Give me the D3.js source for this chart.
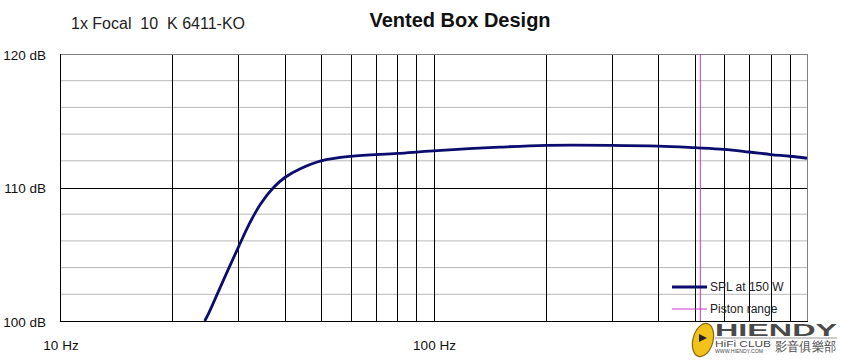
<!DOCTYPE html>
<html>
<head>
<meta charset="utf-8">
<script src="https://cdn.jsdelivr.net/npm/d3@7"></script>
<style>
  body { margin: 0; background: #fff; }
  text { font-family: Arial, "Liberation Sans", sans-serif; }
</style>
</head>
<body>
<svg id="chart" width="842" height="363"></svg>
<script>
// Frequency response (Hz, dB)
const freqs = [24.4, 25, 27, 30, 32.3, 34.4, 37.3, 40, 44, 50, 60, 80, 100, 150, 200, 300, 400, 500, 600, 700, 800, 900, 1000];
const spl = [100, 100.57, 102.67, 105.5, 107.4, 108.75, 110.0, 110.75, 111.4, 111.99, 112.33, 112.55, 112.75, 113.02, 113.16, 113.16, 113.1, 112.98, 112.86, 112.66, 112.47, 112.34, 112.19];

// Piston range limit (Hz)
const pistonFreq = [518];

// Axis ticks
const xMajorTicks = [10, 100];
const xTickLabels = ["10 Hz", "100 Hz"];
const xGridTicks = [20, 30, 40, 50, 60, 70, 80, 90, 100, 200, 300, 400, 500, 600, 700, 800, 900];
const yTicks = [100, 110, 120];
const yTickLabels = ["100 dB", "110 dB", "120 dB"];
const yMinorTicks = [102, 104, 106, 108, 112, 114, 116, 118];

const legendItems = ["SPL at 150 W", "Piston range"];

const svg = d3.select("#chart");
const margin = { left: 60, right: 35, top: 54, bottom: 42 };
const W = 842, H = 363;

const x = d3.scaleLog().domain([10, 1000]).range([margin.left, W - margin.right]);
const y = d3.scaleLinear().domain([100, 120]).range([H - margin.bottom, margin.top]);

// Minor horizontal grid
svg.append("g").selectAll("line").data(yMinorTicks).join("line")
    .attr("x1", x(10)).attr("x2", x(1000))
    .attr("y1", d => y(d)).attr("y2", d => y(d))
    .attr("stroke", "#b8b8b8").attr("stroke-width", 1);

// Vertical grid
svg.append("g").selectAll("line").data(xGridTicks).join("line")
    .attr("x1", d => Math.round(x(d)) + 0.5).attr("x2", d => Math.round(x(d)) + 0.5)
    .attr("y1", y(120)).attr("y2", y(100))
    .attr("stroke", "#000").attr("stroke-width", 1);

// Major horizontal line at 110 dB
svg.append("line")
    .attr("x1", x(10)).attr("x2", x(1000))
    .attr("y1", Math.round(y(110)) + 0.5).attr("y2", Math.round(y(110)) + 0.5)
    .attr("stroke", "#000");

// Frame: top and right gray, left and bottom black
svg.append("line").attr("x1", x(10)).attr("x2", x(1000))
    .attr("y1", y(120) + 0.5).attr("y2", y(120) + 0.5).attr("stroke", "#808080");
svg.append("line").attr("x1", x(1000) + 0.5).attr("x2", x(1000) + 0.5)
    .attr("y1", y(120)).attr("y2", y(100)).attr("stroke", "#808080");
svg.append("line").attr("x1", x(10) + 0.5).attr("x2", x(10) + 0.5)
    .attr("y1", y(120)).attr("y2", y(100)).attr("stroke", "#000");
svg.append("line").attr("x1", x(10)).attr("x2", x(1000) + 1)
    .attr("y1", y(100) + 0.5).attr("y2", y(100) + 0.5).attr("stroke", "#000");

// Piston range marker
svg.append("g").selectAll("line").data(pistonFreq).join("line")
    .attr("x1", d => x(d)).attr("x2", d => x(d))
    .attr("y1", y(120)).attr("y2", y(100))
    .attr("stroke", "#cc33cc").attr("stroke-width", 1);

// SPL curve
const pts = freqs.map((f, i) => [f, spl[i]]);
const line = d3.line()
    .x(d => x(d[0])).y(d => y(d[1]))
    .curve(d3.curveCatmullRom.alpha(0.5));
svg.append("path").datum(pts)
    .attr("d", line)
    .attr("fill", "none")
    .attr("stroke", "#0c0c6e")
    .attr("stroke-width", 2.8);

// Y labels
svg.append("g").selectAll("text").data(yTicks).join("text")
    .attr("x", 46).attr("y", d => y(d) + 1)
    .attr("dy", "0.35em")
    .attr("text-anchor", "end")
    .attr("font-size", 13.5)
    .attr("fill", "#111")
    .text((d, i) => yTickLabels[i]);

// X labels
svg.append("g").selectAll("text").data(xMajorTicks).join("text")
    .attr("x", d => x(d) + 1).attr("y", 345)
    .attr("dy", "0.35em")
    .attr("text-anchor", "middle")
    .attr("font-size", 13.5)
    .attr("fill", "#111")
    .text((d, i) => xTickLabels[i]);

// Titles
svg.append("text")
    .attr("x", 460).attr("y", 27)
    .attr("text-anchor", "middle")
    .attr("font-size", 20).attr("font-weight", "bold")
    .attr("fill", "#111")
    .text("Vented Box Design");

svg.append("text")
    .attr("x", 71).attr("y", 29)
    .attr("font-size", 16)
    .attr("fill", "#222")
    .style("white-space", "pre")
    .text("1x Focal  10  K 6411-KO");

// Legend
const legend = svg.append("g");
const legY = [287, 309];
legend.append("line").attr("x1", 672).attr("x2", 707)
    .attr("y1", legY[0]).attr("y2", legY[0])
    .attr("stroke", "#0c0c6e").attr("stroke-width", 2.8);
legend.append("line").attr("x1", 672).attr("x2", 707)
    .attr("y1", legY[1]).attr("y2", legY[1])
    .attr("stroke", "#cc33cc").attr("stroke-width", 1);
legend.selectAll("text").data(legendItems).join("text")
    .attr("x", 710).attr("y", (d, i) => legY[i])
    .attr("dy", "0.35em")
    .attr("font-size", 12)
    .attr("fill", "#222")
    .text(d => d);

// Watermark logo
const wm = svg.append("g");
wm.append("ellipse")
    .attr("cx", 703).attr("cy", 340).attr("rx", 10).attr("ry", 17)
    .attr("transform", "rotate(15,703,340)")
    .attr("fill", "#f2c21b").attr("stroke", "#8a6a10").attr("stroke-width", 1.2);
wm.append("path")
    .attr("d", "M699,334 L707,338 L699,342 Z")
    .attr("fill", "#222");
wm.append("text")
    .attr("x", 715).attr("y", 336)
    .attr("font-size", 17).attr("font-weight", "bold")
    .attr("textLength", 122).attr("lengthAdjust", "spacingAndGlyphs")
    .attr("fill", "#4a4a4a")
    .text("HIENDY");
wm.append("line").attr("x1", 715).attr("x2", 837)
    .attr("y1", 338).attr("y2", 338).attr("stroke", "#999");
wm.append("text")
    .attr("x", 715).attr("y", 347)
    .attr("font-size", 9)
    .attr("textLength", 56).attr("lengthAdjust", "spacingAndGlyphs")
    .attr("fill", "#4a4a4a")
    .text("HiFi CLUB");
wm.append("text")
    .attr("x", 715).attr("y", 353)
    .attr("font-size", 5)
    .attr("textLength", 48).attr("lengthAdjust", "spacingAndGlyphs")
    .attr("fill", "#4a4a4a")
    .text("WWW.HIENDY.COM");
wm.append("text")
    .attr("x", 775).attr("y", 351)
    .attr("font-size", 13)
    .attr("font-family", "Noto Sans CJK TC")
    .attr("textLength", 61).attr("lengthAdjust", "spacingAndGlyphs")
    .attr("fill", "#4a4a4a")
    .text("影音俱樂部");
</script>
</body>
</html>
